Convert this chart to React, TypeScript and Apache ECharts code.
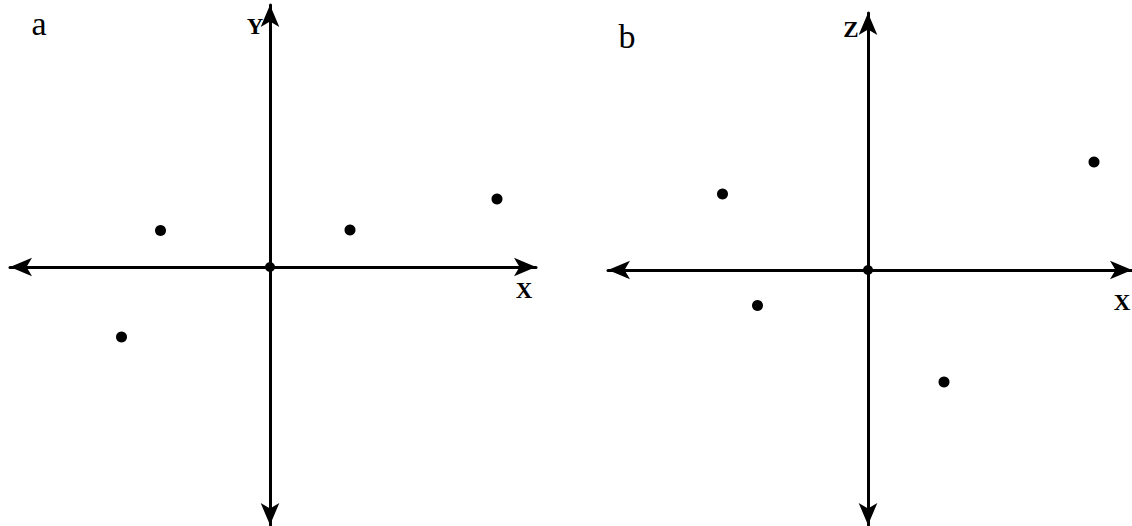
import React, { useEffect, useRef } from "react";
import * as echarts from "echarts";

// Panel a: points in (X, Y)
const pointsA: [number, number][] = [
  [-2.19, 0.73],
  [1.6, 0.74],
  [4.54, 1.36],
  [-2.97, -1.4],
];
// Panel b: points in (X, Z)
const pointsB: [number, number][] = [
  [-2.91, 1.52],
  [4.52, 2.16],
  [-2.21, -0.71],
  [1.52, -2.24],
];
const origin: [number, number][] = [[0, 0]];
const panelLabels = ["a", "b"];
const axisNamesA = ["X", "Y"];
const axisNamesB = ["X", "Z"];

export default function App() {
  const ref = useRef<HTMLDivElement>(null);
  useEffect(() => {
    if (!ref.current) return;
    const chart = echarts.init(ref.current, undefined, { renderer: "svg" });
    const axisCommon = {
      type: "value" as const,
      axisLine: {
        show: true,
        onZero: true,
        symbol: ["arrow", "arrow"],
        symbolSize: [14, 22],
        lineStyle: { color: "#000", width: 3 },
      },
      axisTick: { show: false },
      axisLabel: { show: false },
      splitLine: { show: false },
    };
    const serif = "'Liberation Serif', 'DejaVu Serif', serif";
    const txt = (x: number, y: number, text: string, size: number, bold: boolean) => ({
      type: "text",
      x,
      y,
      style: {
        text,
        fill: "#000",
        font: `${bold ? "bold " : ""}${size}px ${serif}`,
        textAlign: "center",
        textVerticalAlign: "middle",
      },
    });
    const dot = { color: "#000", opacity: 1 };
    chart.setOption({
      animation: false,
      backgroundColor: "#fff",
      grid: [
        { left: 10, top: 5, width: 526, height: 520 },
        { left: 608, top: 13, width: 524, height: 512 },
      ],
      xAxis: [
        { ...axisCommon, gridIndex: 0, min: -5.2, max: 5.32 },
        { ...axisCommon, gridIndex: 1, min: -5.2, max: 5.28 },
      ],
      yAxis: [
        { ...axisCommon, gridIndex: 0, min: -5.16, max: 5.24 },
        { ...axisCommon, gridIndex: 1, min: -5.1, max: 5.14 },
      ],
      series: [
        { type: "scatter", xAxisIndex: 0, yAxisIndex: 0, data: pointsA, symbolSize: 11, itemStyle: dot },
        { type: "scatter", xAxisIndex: 0, yAxisIndex: 0, data: origin, symbolSize: 10, itemStyle: dot },
        { type: "scatter", xAxisIndex: 1, yAxisIndex: 1, data: pointsB, symbolSize: 11, itemStyle: dot },
        { type: "scatter", xAxisIndex: 1, yAxisIndex: 1, data: origin, symbolSize: 10, itemStyle: dot },
      ],
      graphic: [
        txt(39, 23, panelLabels[0], 34, false),
        txt(627, 36, panelLabels[1], 34, false),
        txt(255, 26, axisNamesA[1], 23, true),
        txt(851, 29, axisNamesB[1], 23, true),
        txt(524, 290, axisNamesA[0], 23, true),
        txt(1122, 302, axisNamesB[0], 23, true),
      ],
    });
    return () => chart.dispose();
  }, []);
  return (
    <div
      ref={ref}
      style={{ position: "fixed", left: 0, top: 0, width: 1132, height: 526 }}
    />
  );
}
